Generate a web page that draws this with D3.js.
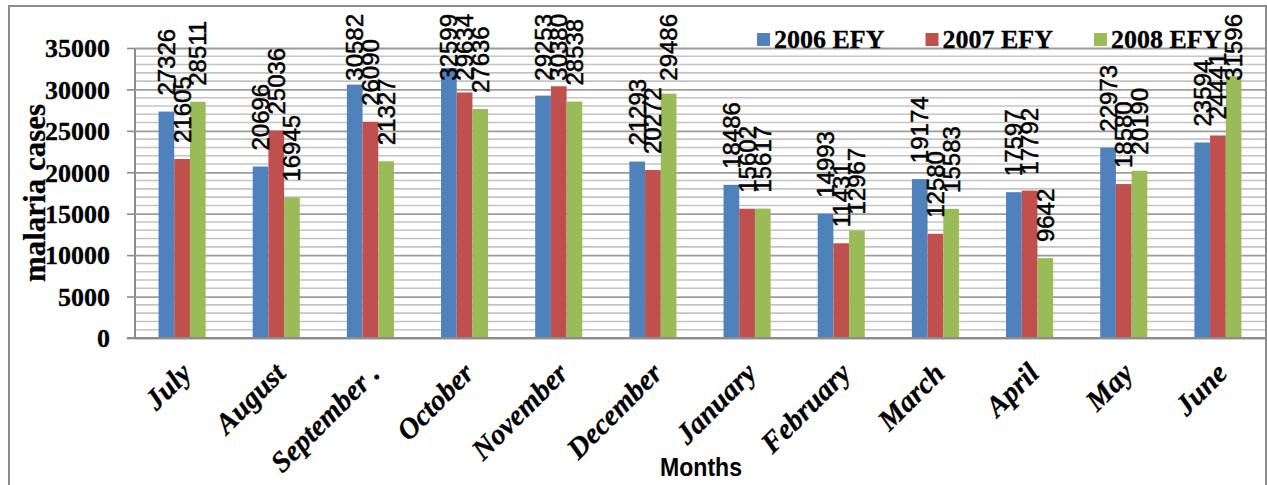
<!DOCTYPE html>
<html>
<head>
<meta charset="utf-8">
<script src="https://cdn.jsdelivr.net/npm/d3@7"></script>
<style>
  html, body { margin: 0; padding: 0; background: #fff; }
  svg { display: block; }
</style>
</head>
<body>
<svg id="chart" width="1267" height="485"></svg>
<script>
// Monthly malaria cases by Ethiopian fiscal year
const months = ["July", "August", "September .", "October", "November", "December",
                "January", "February", "March", "April", "May", "June"];
const seriesNames = ["2006 EFY", "2007 EFY", "2008 EFY"];
const cases2006 = [27326, 20696, 30582, 32599, 29253, 21293, 18486, 14993, 19174, 17597, 22973, 23594];
const cases2007 = [21605, 25036, 26090, 29634, 30380, 20272, 15602, 11431, 12580, 17792, 18580, 24441];
const cases2008 = [28511, 16945, 21327, 27636, 28538, 29486, 15617, 12967, 15583, 9642, 20190, 31596];
const yTicks = [0, 5000, 10000, 15000, 20000, 25000, 30000, 35000];
const seriesColors = ["#4F81BD", "#C0504D", "#9BBB59"];

const seriesValues = [cases2006, cases2007, cases2008];

const svg = d3.select("#chart");
const plot = { left: 135, right: 1265, top: 48, bottom: 338 };
const serif = "'Liberation Serif', 'Times New Roman', serif";
const sans = "'Liberation Sans', Arial, sans-serif";

// Chart frame
svg.append("rect")
  .attr("x", 9).attr("y", 6)
  .attr("width", 1257).attr("height", 490)
  .attr("fill", "#fff")
  .attr("stroke", "#8c8c8c").attr("stroke-width", 2);

const x = d3.scaleBand()
  .domain(months)
  .range([plot.left, plot.right])
  .paddingInner(0.5)
  .paddingOuter(0.25);

const xs = d3.scaleBand()
  .domain(seriesNames)
  .range([0, x.bandwidth()]);

const y = d3.scaleLinear()
  .domain([0, 35000])
  .range([plot.bottom, plot.top]);

// Minor gridlines every 1000
const minor = d3.range(1000, 35001, 1000).filter(v => v % 5000 !== 0);
svg.append("g").selectAll("line")
  .data(minor).join("line")
  .attr("x1", plot.left).attr("x2", plot.right)
  .attr("y1", d => y(d)).attr("y2", d => y(d))
  .attr("stroke", "#c4c4c4").attr("stroke-width", 1.6);

// Major gridlines + y axis with outside tick marks
const yAxis = d3.axisLeft(y)
  .tickValues(yTicks)
  .tickSize(8)
  .tickPadding(17)
  .tickFormat(d3.format("d"));

const gy = svg.append("g")
  .attr("transform", `translate(${plot.left},0)`)
  .call(yAxis);
gy.select(".domain").attr("stroke", "#8c8c8c").attr("stroke-width", 2)
  .attr("d", `M0,${plot.bottom}V${plot.top}`);
gy.selectAll(".tick line").attr("stroke", "#8c8c8c").attr("stroke-width", 1.6);
gy.selectAll(".tick")
  .append("line")
  .attr("x1", 0).attr("x2", plot.right - plot.left)
  .attr("stroke", "#9c9c9c").attr("stroke-width", 1.8);
gy.selectAll(".tick text")
  .attr("font-family", serif)
  .attr("font-weight", "bold")
  .attr("font-size", 26)
  .attr("fill", "#000")
  .attr("stroke", "#000").attr("stroke-width", 0.3)
  .attr("dy", "0.34em");

// Bars
const groups = svg.append("g").selectAll("g")
  .data(months).join("g")
  .attr("transform", d => `translate(${x(d)},0)`);

groups.selectAll("rect")
  .data((m, i) => seriesNames.map((s, k) => ({ s, k, v: seriesValues[k][i] })))
  .join("rect")
  .attr("x", d => xs(d.s))
  .attr("width", xs.bandwidth())
  .attr("y", d => y(d.v))
  .attr("height", d => y(0) - y(d.v))
  .attr("fill", d => seriesColors[d.k]);

// Category axis line
svg.append("line")
  .attr("x1", plot.left - 8).attr("x2", plot.right)
  .attr("y1", plot.bottom).attr("y2", plot.bottom)
  .attr("stroke", "#8c8c8c").attr("stroke-width", 2);

// Value labels, rotated, kept inside the chart area
const labelSize = 24;
const labelLen = d => String(d).length * labelSize * 0.556;
groups.selectAll("text.val")
  .data((m, i) => seriesNames.map((s, k) => ({ s, k, v: seriesValues[k][i] })))
  .join("text")
  .attr("class", "val")
  .attr("transform", d => {
    const cx = xs(d.s) + xs.bandwidth() / 2 + 8.5;
    const start = Math.max(y(d.v) - 16, 14 + labelLen(d.v));
    return `translate(${cx},${start}) rotate(-90)`;
  })
  .attr("font-family", sans)
  .attr("font-size", labelSize)
  .attr("fill", "#000")
  .attr("stroke", "#000").attr("stroke-width", 0.5)
  .text(d => d.v);

// Month labels
svg.append("g").selectAll("text")
  .data(months).join("text")
  .attr("transform", d => `translate(${x(d) + x.bandwidth() / 2 + 11},375) rotate(-45)`)
  .attr("text-anchor", "end")
  .attr("font-family", serif)
  .attr("font-weight", "bold")
  .attr("font-style", "italic")
  .attr("font-size", 29)
  .attr("fill", "#000")
  .attr("stroke", "#000").attr("stroke-width", 0.3)
  .text(d => d);

// Axis titles
svg.append("text")
  .attr("transform", "translate(45,193) rotate(-90)")
  .attr("text-anchor", "middle")
  .attr("font-family", serif)
  .attr("font-weight", "bold")
  .attr("font-size", 31)
  .attr("fill", "#000")
  .attr("stroke", "#000").attr("stroke-width", 0.3)
  .text("malaria cases");

svg.append("text")
  .attr("x", 701).attr("y", 476)
  .attr("text-anchor", "middle")
  .attr("font-family", sans)
  .attr("font-weight", "bold")
  .attr("font-size", 26)
  .attr("textLength", 82)
  .attr("lengthAdjust", "spacingAndGlyphs")
  .attr("fill", "#000")
  .text("Months");

// Legend
const legend = svg.append("g").selectAll("g")
  .data(seriesNames).join("g")
  .attr("transform", (d, i) => `translate(${757 + i * 168.5},33)`);
legend.append("rect")
  .attr("width", 13).attr("height", 13)
  .attr("fill", (d, i) => seriesColors[i]);
legend.append("text")
  .attr("x", 17).attr("y", 15)
  .attr("font-family", serif)
  .attr("font-weight", "bold")
  .attr("font-size", 26)
  .attr("fill", "#000")
  .attr("stroke", "#000").attr("stroke-width", 0.3)
  .text(d => d);
</script>
</body>
</html>
